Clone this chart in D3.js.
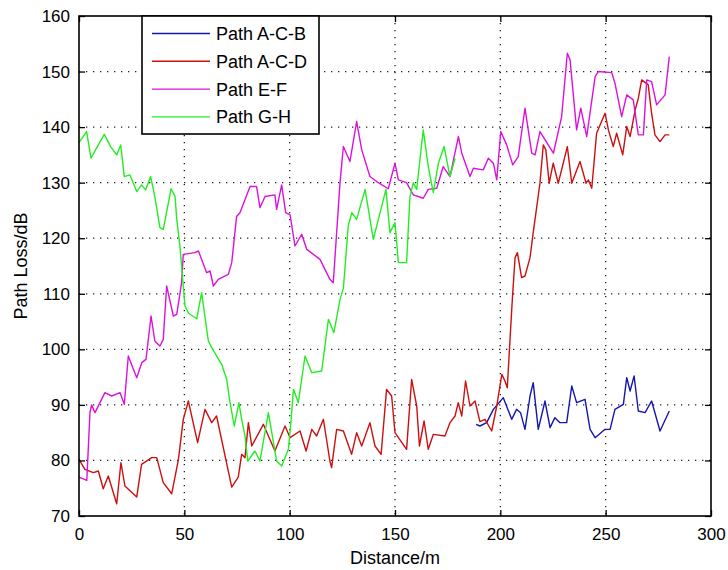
<!DOCTYPE html>
<html>
<head>
<meta charset="utf-8">
<script src="https://cdn.jsdelivr.net/npm/d3@7/dist/d3.min.js"></script>
<style>
  html, body { margin: 0; padding: 0; background: #fff; }
  svg { display: block; font-family: "Liberation Sans", Arial, sans-serif; }
</style>
</head>
<body>
<svg id="chart" width="728" height="570"></svg>
<script>
// ---------------- data ----------------
const seriesNames = ["Path A-C-B", "Path A-C-D", "Path E-F", "Path G-H"];
const seriesColors = ["#1515b0", "#cc1010", "#dd11dd", "#22ee22"];

const xTicks = [0, 50, 100, 150, 200, 250, 300];
const yTicks = [70, 80, 90, 100, 110, 120, 130, 140, 150, 160];

// Path A-C-B
const acbDist = [188.5,190.3,193.5,196.7,201.4,205.4,207.7,209.6,211.7,214.1,215.6,218,221.2,223.6,225.9,228.3,231.5,233.9,236.2,240.2,242.6,245,249.7,252.1,254.4,258.4,260,261.6,263.5,265.5,268.7,271.8,275.8,280.2];
const acbLoss = [86.5,86.2,86.8,89.2,91.3,87.4,89.2,88.6,85.6,91.6,94,85.6,90.7,85.9,87.7,86.8,86.8,93.4,90.4,91,85.6,84.1,85.6,85.6,89.2,90.1,94.9,92.5,95.2,88.9,88.6,90.7,85.3,88.9];

// Path A-C-D
const acdDist = [0,2.8,6.8,9.2,11.5,13.9,17.9,19.9,21.8,27.4,29.7,34.5,36.9,40,44,47.2,49.5,51.9,56.3,59.8,63,65.3,72.5,75.6,77.2,78.8,80.4,82,87.5,93,97.8,100.2,104.9,107.8,110.5,112.8,116,119.1,119.9,122.3,125.5,129.4,131.8,134.2,138.1,140.5,143.4,146,148.4,150,155.5,157.9,160.3,161.6,163.8,165.8,168.2,173.7,176.1,178.5,180,181.7,183.5,185.6,188,190.3,192.7,195.9,198.3,200.7,202.2,203.3,204.6,205.7,207,208.1,210.1,211.7,214.1,215.6,217.3,218.8,220.4,221.6,223.2,225.1,227.5,231.8,233.9,237.8,240.7,241.8,243.4,245.7,249.7,251.3,253.6,255.2,258.1,260,261.6,264,265.5,267.1,270.2,271.8,273.4,275.8,278.2,280.2];
const acdLoss = [80.2,78.4,77.8,78.1,74.9,77.2,72.2,79.6,75.4,73.4,79.3,80.5,80.5,76,74,80.2,87.4,90.7,83.2,89.2,86.8,88,75.2,77,81.1,80.5,86.8,82.6,86.5,81.7,86.2,84.1,85.3,81.7,85.6,84.4,87.4,79.9,78.7,85.6,85.3,81.1,85,82.6,86.8,82.6,81.1,92.8,91.6,85,82,94.6,89.8,82.6,87.1,82,84.7,84.4,86.8,88,90.4,88,94.3,89.8,90.7,87,87.4,85.3,89.8,95.5,94.3,93.1,101.8,109,116.5,117.4,112.9,113.2,116.5,121,125.7,129.9,136.8,135.9,129.9,133.5,129.9,136.5,129.9,133.8,129.9,130.5,129,138.9,142.5,139.5,136.5,138.9,135,140.1,138.3,143.1,145.2,148.5,147.6,142.5,138.6,137.4,138.6,138.6];

// Path E-F
const efDist = [0,3.7,5.2,6,7.6,12.3,15.5,19.5,21.5,23.4,27.4,29.8,31.8,34.2,36,38.4,40,41.6,44.8,46.4,48.7,49.5,55,56.7,60.6,62.2,63.8,66.1,70.9,72.5,74.8,76.4,81.2,84.3,85.9,88.3,93,93.8,96.2,98.1,100.2,102.5,105.7,108.1,114.4,119.1,120.7,122.3,123.9,125.5,128.6,131.8,134.2,138.1,141.3,146.8,150,151.6,155.5,158.7,163.4,165.8,169.8,172.9,176.1,180.1,181.7,185.6,187.2,191.9,194.3,196.7,198.3,200.2,203,205.9,208.5,211.7,214.9,216.5,218.8,225.2,229.1,231.8,233.1,236.2,238.2,241,245,246.5,252.9,254.4,257.6,260,263.1,265.5,267.9,269.5,271.8,274.2,278.2,280.2];
const efLoss = [77,76.4,88.6,90,88.6,92.2,91.6,92.2,90.1,98.8,94.9,97.6,98.2,106,101.5,100.6,101.8,111.4,106,106.3,112,117.1,117.4,117.7,113.8,114.1,111.4,112.6,113.5,115.6,123.9,124.6,129.3,129.3,125.5,127.5,127.8,125.2,129.6,124.6,124.2,118.6,120.7,118,116.2,112.6,112,121,130,136.5,133.8,141,135.9,131.1,130.2,128.9,133.5,130.5,130,127.8,127.2,128.8,129,132.9,131.1,138.3,135.3,131.1,132.6,132.3,134.4,133.5,130.5,139.2,136.8,133.2,134.7,143.4,135.3,135,139.2,135.3,141.9,153.3,152.1,139.5,143.4,138.3,149.1,150,149.8,147.9,141.9,145.8,144.9,138.6,138.6,148.5,148.2,144,145.8,152.7];

// Path G-H
const ghDist = [0,3.6,5.7,8,12,15,17.9,19.8,21.5,24.2,27.4,29.7,31.6,34,36,38.4,40,43.7,45.6,46.4,47.9,48.7,50.3,52,55.9,58.2,61.4,63,67.7,70.1,71.7,73.7,75.9,77.2,78.8,80.1,83.5,85.9,89.9,93.8,96.2,99.4,100.6,101.8,104.1,107.3,110.5,115.2,118.4,121,123.9,125.5,127.8,129.5,131.8,135.8,139.7,145.7,147.6,150,151.6,155.5,157.1,158.7,160.3,163.4,165.8,168.2,170.6,173.3,176.1,178.5];
const ghLoss = [137.2,139.2,134.4,136,138.7,136.5,135,136.8,131.1,131.4,128.4,129.6,128.7,131.1,127.5,121.9,121.6,128.9,127.5,123.4,118.6,115,107.8,106.5,105.5,110.2,101.5,100.3,97.3,94.6,90.4,86.2,90.4,87.4,84.4,79.9,81.7,79.9,88.6,79.9,79,82,87,92.8,90.4,98.8,95.8,96.1,105.4,103,109,111,122.2,124.6,123.4,128.8,119.8,128.8,121,122.8,115.6,115.6,127.5,130,128.8,139.5,132.9,128.2,133.5,136.5,131.1,134.4];

const seriesDist = [acbDist, acdDist, efDist, ghDist];
const seriesLoss = [acbLoss, acdLoss, efLoss, ghLoss];

const xLabel = "Distance/m";
const yLabel = "Path Loss/dB";

// ---------------- layout ----------------
const L = 79, R = 711, T = 16, B = 516;
const svg = d3.select("#chart");
const x = d3.scaleLinear().domain([0, 300]).range([L, R]);
const y = d3.scaleLinear().domain([70, 160]).range([B, T]);

// grid (dotted)
const grid = svg.append("g");
grid.selectAll("line.vg").data(xTicks.filter(d => d > 0 && d < 300)).join("line")
  .attr("x1", d => x(d)).attr("x2", d => x(d)).attr("y1", T).attr("y2", B)
  .attr("stroke", "#222").attr("stroke-width", 1.3).attr("stroke-dasharray", "1.3,5.7");
grid.selectAll("line.hg").data(yTicks.filter(d => d > 70 && d < 160)).join("line")
  .attr("x1", L).attr("x2", R).attr("y1", d => y(d)).attr("y2", d => y(d))
  .attr("stroke", "#222").attr("stroke-width", 1.3).attr("stroke-dasharray", "1.3,5.7");

// series lines
const line = d3.line().x(d => x(d[0])).y(d => y(d[1]));
seriesNames.forEach((name, i) => {
  const pts = seriesDist[i].map((d, j) => [d, seriesLoss[i][j]]);
  svg.append("path").datum(pts)
    .attr("d", line).attr("fill", "none")
    .attr("stroke", seriesColors[i]).attr("stroke-width", 1.4)
    .attr("stroke-linejoin", "round");
});

// axes (MATLAB box style, ticks inward)
const tickLen = 6;
const axB = svg.append("g").attr("transform", `translate(0,${B})`)
  .call(d3.axisBottom(x).tickValues(xTicks).tickSize(-tickLen).tickPadding(12).tickFormat(d3.format("d")));
const axT = svg.append("g").attr("transform", `translate(0,${T})`)
  .call(d3.axisTop(x).tickValues(xTicks).tickSize(-tickLen).tickFormat(""));
const axL = svg.append("g").attr("transform", `translate(${L},0)`)
  .call(d3.axisLeft(y).tickValues(yTicks).tickSize(-tickLen).tickPadding(9).tickFormat(d3.format("d")));
const axR = svg.append("g").attr("transform", `translate(${R},0)`)
  .call(d3.axisRight(y).tickValues(yTicks).tickSize(-tickLen).tickFormat(""));
[axB, axT, axL, axR].forEach(a => {
  a.select(".domain").remove();
  a.selectAll(".tick line").attr("stroke", "#000").attr("stroke-width", 1.3);
  a.selectAll(".tick text").attr("font-size", 17).attr("fill", "#000")
    .attr("font-family", "'Liberation Sans', Arial, sans-serif");
});
svg.append("rect").attr("x", L).attr("y", T).attr("width", R - L).attr("height", B - T)
  .attr("fill", "none").attr("stroke", "#000").attr("stroke-width", 1.6);

// axis labels
svg.append("text").attr("x", (L + R) / 2).attr("y", 564).attr("text-anchor", "middle")
  .attr("font-size", 18).attr("fill", "#000").text(xLabel);
svg.append("text").attr("transform", `translate(27,${(T + B) / 2}) rotate(-90)`)
  .attr("text-anchor", "middle").attr("font-size", 18).attr("fill", "#000").text(yLabel);

// legend
const lg = svg.append("g");
lg.append("rect").attr("x", 142).attr("y", T).attr("width", 177).attr("height", 118)
  .attr("fill", "#fff").attr("stroke", "#000").attr("stroke-width", 1.6);
seriesNames.forEach((name, i) => {
  const yy = 33.5 + i * 27.8;
  lg.append("line").attr("x1", 152).attr("x2", 210).attr("y1", yy).attr("y2", yy)
    .attr("stroke", seriesColors[i]).attr("stroke-width", 1.4);
  lg.append("text").attr("x", 216).attr("y", yy + 6.5).attr("font-size", 18)
    .attr("fill", "#000").text(name);
});
</script>
</body>
</html>
